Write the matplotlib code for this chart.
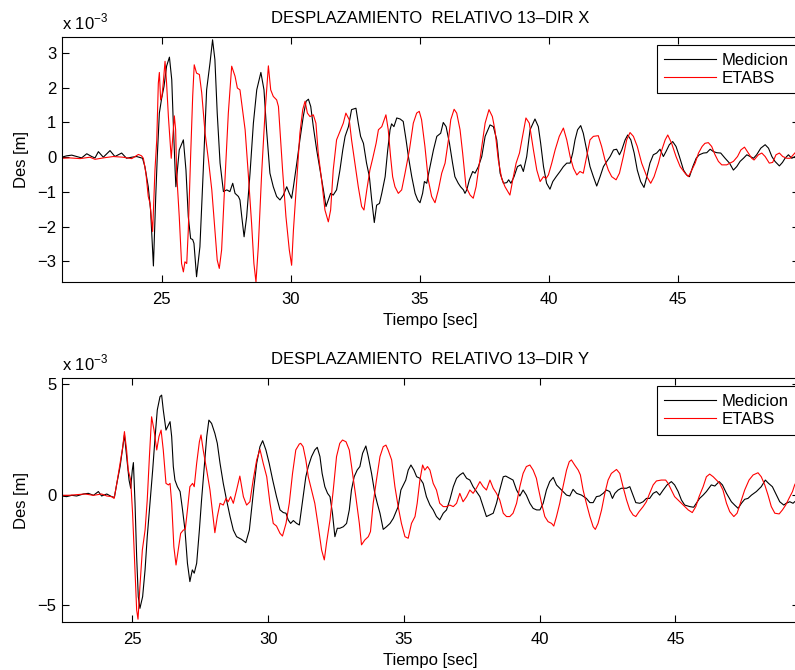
import numpy as np
import matplotlib
matplotlib.use('Agg')
import matplotlib.pyplot as plt

# (time [s], displacement [x 1e-3 m])
med_x = [(21.13,0.00),(21.32,0.04),(21.52,0.06),(21.71,0.02),(21.90,-0.02),(22.10,0.10),(22.29,0.02),(22.42,-0.02),
 (22.55,0.16),(22.74,0.00),(23.00,0.19),(23.19,0.02),(23.45,0.12),(23.64,-0.03),(23.84,0.00),(24.03,0.02),(24.26,-0.03),
 (24.35,-0.27),(24.48,-0.85),(24.57,-1.52),(24.68,-3.13),(24.77,-1.13),(24.83,0.02),(24.91,1.27),(25.00,1.70),(25.09,2.04),
 (25.19,2.62),(25.30,2.88),(25.39,2.23),(25.45,0.98),(25.52,-0.37),(25.55,-0.85),(25.68,0.21),(25.84,0.50),(25.94,-0.37),
 (26.03,-1.71),(26.12,-2.34),(26.20,-2.37),(26.25,-2.48),(26.35,-3.44),(26.48,-2.58),(26.61,-0.37),(26.74,1.94),(26.87,2.71),
 (26.97,3.38),(27.06,2.81),(27.15,1.27),(27.26,-0.17),(27.39,-0.99),(27.52,-0.94),(27.64,-0.99),(27.75,-0.75),(27.84,-1.04),
 (27.97,-1.13),(28.03,-1.23),(28.10,-1.71),(28.19,-2.29),(28.29,-1.71),(28.42,-0.46),(28.55,0.98),(28.68,1.94),(28.84,2.44),
 (28.96,1.94),(29.06,0.79),(29.19,-0.46),(29.32,-0.85),(29.45,-1.13),(29.58,-1.23),(29.71,-1.09),(29.84,-0.85),(29.94,-1.04),
 (30.03,-1.18),(30.10,-0.85),(30.23,-0.17),(30.35,0.50),(30.48,1.17),(30.59,1.61),(30.68,1.67),(30.77,1.46),(30.87,0.88),
 (31.00,0.21),(31.13,-0.37),(31.26,-0.94),(31.36,-1.42),(31.45,-1.23),(31.54,-1.04),(31.64,-1.09),(31.77,-0.94),(31.90,-0.37),
 (32.01,0.21),(32.10,0.60),(32.23,0.88),(32.35,1.37),(32.52,1.41),(32.61,0.98),(32.70,0.60),(32.81,0.40),(32.93,-0.17),
 (33.04,-0.56),(33.13,-1.23),(33.23,-1.88),(33.32,-1.38),(33.43,-1.33),(33.52,-1.04),(33.65,-0.56),(33.75,0.21),(33.84,0.79),
 (33.90,0.96),(33.99,0.88),(34.10,1.13),(34.23,1.10),(34.35,1.03),(34.46,0.50),(34.55,0.02),(34.68,-0.56),(34.81,-1.04),
 (34.91,-1.23),(35.00,-1.31),(35.10,-1.04),(35.17,-0.70),(35.26,-0.75),(35.36,-0.37),(35.52,0.21),(35.65,0.60),(35.80,0.69),
 (35.90,1.00),(36.01,0.88),(36.14,0.40),(36.26,-0.17),(36.35,-0.56),(36.48,-0.75),(36.57,-0.85),(36.68,-0.94),(36.74,-1.04),
 (36.81,-0.94),(36.91,-0.65),(37.04,-0.41),(37.13,-0.46),(37.26,-0.27),(37.39,0.02),(37.52,0.60),(37.71,0.93),(37.84,0.88),
 (37.97,0.50),(38.10,-0.46),(38.23,-0.75),(38.36,-0.73),(38.43,-0.65),(38.52,-0.75),(38.64,-0.56),(38.77,-0.27),(38.90,-0.22),
 (39.00,-0.41),(39.13,0.02),(39.26,0.79),(39.45,1.10),(39.58,0.88),(39.67,0.40),(39.78,-0.27),(39.90,-0.75),(40.03,-0.92),
 (40.14,-0.70),(40.27,-0.56),(40.42,-0.41),(40.55,-0.27),(40.68,-0.17),(40.81,-0.17),(40.91,0.12),(41.00,0.50),(41.10,0.79),
 (41.22,0.91),(41.32,0.69),(41.45,0.21),(41.58,-0.27),(41.71,-0.56),(41.84,-0.83),(41.97,-0.56),(42.10,-0.27),(42.23,-0.12),
 (42.36,0.02),(42.49,0.21),(42.61,0.23),(42.72,0.07),(42.81,0.21),(42.94,0.50),(43.04,0.64),(43.16,0.50),(43.29,0.12),
 (43.41,-0.37),(43.54,-0.70),(43.67,-0.87),(43.78,-0.56),(43.90,-0.17),(44.03,0.07),(44.16,0.12),(44.29,0.23),(44.42,0.02),
 (44.52,0.16),(44.65,0.36),(44.78,0.45),(44.91,0.31),(45.04,0.02),(45.20,-0.37),(45.32,-0.51),(45.43,-0.56),(45.56,-0.27),
 (45.69,-0.03),(45.81,0.07),(45.97,0.12),(46.10,0.13),(46.23,0.23),(46.36,0.16),(46.49,0.13),(46.64,0.12),(46.81,-0.03),
 (46.98,-0.17),(47.13,-0.37),(47.26,-0.27),(47.39,-0.12),(47.52,-0.03),(47.65,0.07),(47.78,0.02),(47.91,-0.03),(48.03,0.07),
 (48.19,0.26),(48.36,0.36),(48.49,0.26),(48.62,0.02),(48.74,-0.12),(48.91,-0.25),(49.03,-0.15),(49.13,-0.03),(49.26,0.07),
 (49.39,-0.03),(49.52,0.02),(49.67,0.05)]

etabs_x = [(21.13,-0.03),(21.45,-0.02),(21.84,-0.04),(22.22,0.00),(22.42,-0.06),(22.74,-0.02),(23.13,0.02),(23.51,0.00),
 (23.84,-0.04),(24.10,0.08),(24.22,0.04),(24.29,-0.03),(24.39,-0.46),(24.48,-1.13),(24.55,-1.33),(24.65,-2.14),(24.74,-0.37),
 (24.81,0.50),(24.87,2.13),(24.91,2.44),(24.96,1.65),(25.01,1.75),(25.06,2.13),(25.13,2.76),(25.19,2.13),(25.26,1.17),
 (25.32,0.50),(25.37,-0.03),(25.45,0.79),(25.49,1.19),(25.54,0.79),(25.58,-0.46),(25.68,-1.71),(25.77,-3.06),(25.84,-3.30),
 (25.90,-3.01),(25.97,-3.06),(26.03,-2.10),(26.12,0.02),(26.20,1.75),(26.26,2.66),(26.35,2.42),(26.46,2.38),(26.55,1.85),
 (26.68,0.69),(26.81,-0.08),(26.94,-0.94),(27.06,-2.10),(27.15,-2.96),(27.23,-3.20),(27.32,-2.67),(27.45,-0.65),(27.58,1.27),
 (27.71,2.62),(27.84,2.33),(27.93,1.99),(28.03,1.94),(28.13,1.37),(28.23,0.79),(28.35,-0.46),(28.48,-1.90),(28.57,-3.06),
 (28.65,-3.59),(28.74,-2.58),(28.87,-0.46),(29.00,1.27),(29.13,2.63),(29.22,1.94),(29.32,1.75),(29.45,1.65),(29.52,1.46),
 (29.58,0.79),(29.68,-0.37),(29.81,-1.71),(29.94,-2.67),(30.03,-3.11),(30.10,-2.10),(30.23,-0.65),(30.35,0.69),(30.46,1.37),
 (30.55,1.61),(30.64,1.27),(30.74,1.17),(30.87,1.22),(30.97,0.98),(31.06,0.12),(31.19,-0.65),(31.32,-1.52),(31.45,-1.86),
 (31.54,-1.52),(31.64,-0.37),(31.77,0.50),(31.90,0.74),(32.03,0.98),(32.13,1.27),(32.26,1.08),(32.35,0.50),(32.48,-0.17),
 (32.61,-0.85),(32.74,-1.42),(32.83,-1.52),(32.94,-0.94),(33.06,-0.37),(33.17,-0.03),(33.30,0.40),(33.39,0.79),(33.52,0.88),
 (33.68,1.22),(33.77,0.79),(33.86,0.02),(33.94,-0.56),(34.03,-0.85),(34.16,-1.04),(34.29,-0.94),(34.42,-0.46),(34.59,0.21),
 (34.74,0.98),(34.87,1.27),(34.97,1.32),(35.06,1.08),(35.19,0.31),(35.32,-0.65),(35.45,-1.13),(35.58,-1.31),(35.71,-0.94),
 (35.84,-0.46),(35.97,-0.17),(36.10,0.50),(36.19,1.08),(36.32,1.38),(36.42,1.27),(36.55,0.79),(36.65,0.12),(36.78,-0.85),
 (36.94,-1.09),(37.06,-1.18),(37.17,-0.85),(37.30,-0.17),(37.43,0.50),(37.52,0.98),(37.67,1.37),(37.80,1.17),(37.90,0.79),
 (38.03,-0.08),(38.16,-0.61),(38.29,-0.85),(38.48,-1.09),(38.59,-0.65),(38.72,-0.17),(38.85,0.12),(38.97,0.60),(39.10,1.13),
 (39.23,0.98),(39.39,0.21),(39.52,-0.37),(39.65,-0.70),(39.78,-0.56),(39.88,-0.61),(39.97,-0.51),(40.10,-0.17),(40.23,0.21),
 (40.39,0.60),(40.55,0.84),(40.68,0.50),(40.81,0.02),(40.94,-0.32),(41.07,-0.51),(41.19,-0.41),(41.32,-0.46),(41.45,0.02),
 (41.58,0.50),(41.71,0.60),(41.90,0.62),(42.03,0.31),(42.16,-0.08),(42.29,-0.37),(42.42,-0.56),(42.59,-0.65),(42.72,-0.46),
 (42.87,0.02),(43.00,0.50),(43.13,0.71),(43.26,0.60),(43.41,0.31),(43.58,-0.17),(43.78,-0.56),(43.93,-0.75),(44.06,-0.56),
 (44.23,-0.17),(44.36,0.21),(44.49,0.50),(44.59,0.64),(44.74,0.40),(44.91,0.02),(45.07,-0.27),(45.26,-0.46),(45.39,-0.56),
 (45.52,-0.37),(45.65,-0.17),(45.78,0.12),(45.92,0.31),(46.03,0.40),(46.16,0.42),(46.29,0.31),(46.42,0.07),(46.55,-0.12),
 (46.68,-0.22),(46.87,-0.22),(47.00,-0.17),(47.13,-0.12),(47.29,0.02),(47.42,0.21),(47.56,0.29),(47.71,0.12),(47.84,-0.03),
 (47.93,-0.08),(48.10,0.07),(48.23,0.12),(48.36,0.02),(48.52,-0.17),(48.65,-0.15),(48.78,0.07),(48.91,0.12),(49.04,0.02),
 (49.20,-0.03),(49.33,-0.03),(49.45,0.07),(49.52,0.13),(49.67,0.18)]

med_y = [(22.40,-0.06),(22.58,-0.09),(22.77,-0.03),(22.95,-0.06),(23.20,0.03),(23.38,0.06),(23.57,-0.03),(23.75,0.14),
 (23.87,-0.06),(24.06,0.03),(24.24,-0.09),(24.34,-0.12),(24.43,0.51),(24.55,1.27),(24.65,2.17),(24.71,2.70),(24.79,1.72),
 (24.88,0.66),(24.94,0.29),(25.00,1.11),(25.04,1.45),(25.10,-0.39),(25.16,-2.80),(25.22,-4.61),(25.28,-5.14),(25.38,-4.61),
 (25.47,-3.40),(25.55,-1.90),(25.65,-0.39),(25.75,1.11),(25.84,2.62),(25.92,3.83),(26.02,4.43),(26.08,4.50),(26.14,3.83),
 (26.24,2.92),(26.30,3.07),(26.39,3.30),(26.45,2.62),(26.51,1.27),(26.57,0.66),(26.66,0.36),(26.76,0.14),(26.85,-0.69),
 (26.94,-1.60),(27.03,-3.10),(27.12,-3.93),(27.21,-3.40),(27.28,-3.55),(27.37,-3.10),(27.47,-1.60),(27.55,-0.24),(27.64,1.11),
 (27.74,2.62),(27.82,3.37),(27.92,3.22),(28.04,2.77),(28.13,2.32),(28.23,1.42),(28.35,0.51),(28.47,-0.24),(28.60,-0.99),
 (28.72,-1.60),(28.84,-1.90),(29.02,-2.02),(29.18,-2.17),(29.31,-1.60),(29.39,-0.69),(29.48,0.36),(29.58,1.42),(29.70,2.17),
 (29.80,2.44),(29.92,2.02),(30.04,1.42),(30.17,0.66),(30.31,-0.09),(30.44,-0.69),(30.56,-0.81),(30.66,-0.84),(30.74,-1.14),
 (30.83,-1.30),(30.93,-1.17),(31.05,-1.30),(31.15,-1.37),(31.29,-0.09),(31.39,0.81),(31.48,1.27),(31.60,1.72),(31.72,2.02),
 (31.81,2.14),(31.91,1.72),(31.99,0.96),(32.09,0.36),(32.19,0.06),(32.28,-0.09),(32.37,-0.84),(32.46,-1.90),(32.55,-1.52),
 (32.64,-1.52),(32.77,-1.45),(32.89,-1.30),(32.99,-0.69),(33.07,0.21),(33.17,0.81),(33.28,1.11),(33.38,1.27),(33.48,1.87),
 (33.60,2.20),(33.69,1.72),(33.81,0.96),(33.93,0.06),(34.02,-0.39),(34.12,-0.84),(34.24,-1.57),(34.36,-1.45),(34.49,-1.30),
 (34.61,-1.07),(34.71,-0.77),(34.79,-0.54),(34.89,0.21),(34.98,0.44),(35.07,0.66),(35.16,1.11),(35.26,1.34),(35.37,1.11),
 (35.47,0.81),(35.59,0.74),(35.71,0.51),(35.83,-0.09),(35.96,-0.47),(36.08,-0.69),(36.20,-0.99),(36.32,-1.14),(36.45,-0.84),
 (36.57,-0.69),(36.69,-0.24),(36.82,0.36),(36.94,0.74),(37.06,0.89),(37.18,0.99),(37.31,0.74),(37.43,0.66),(37.55,0.36),
 (37.67,0.14),(37.80,-0.09),(37.92,-0.54),(38.04,-0.99),(38.16,-0.92),(38.29,-0.84),(38.41,-0.39),(38.53,0.21),(38.66,0.81),
 (38.75,0.84),(38.90,0.74),(39.02,0.66),(39.15,0.21),(39.27,-0.06),(39.39,0.21),(39.51,-0.02),(39.64,-0.39),(39.76,-0.62),
 (39.89,-0.69),(40.01,-0.69),(40.13,-0.39),(40.25,0.21),(40.37,0.59),(40.50,0.78),(40.62,0.44),(40.74,0.29),(40.86,0.14),
 (40.99,-0.02),(41.11,-0.06),(41.23,0.24),(41.36,0.06),(41.54,-0.02),(41.72,-0.17),(41.85,-0.36),(41.97,-0.36),(42.09,-0.09),
 (42.21,-0.06),(42.34,0.06),(42.46,0.21),(42.58,0.14),(42.68,-0.17),(42.77,0.06),(42.89,0.21),(43.01,0.29),(43.20,0.29),
 (43.32,0.36),(43.42,0.03),(43.54,-0.36),(43.69,-0.39),(43.81,-0.32),(43.93,-0.17),(44.05,-0.17),(44.18,0.06),(44.30,0.14),
 (44.42,-0.02),(44.55,0.21),(44.69,0.44),(44.85,0.59),(44.97,0.44),(45.10,0.14),(45.22,-0.24),(45.34,-0.47),(45.53,-0.54),
 (45.67,-0.57),(45.77,-0.39),(45.89,-0.17),(46.02,-0.02),(46.14,0.14),(46.32,0.44),(46.45,0.39),(46.61,0.59),(46.73,0.44),
 (46.88,0.06),(47.06,-0.32),(47.18,-0.47),(47.31,-0.62),(47.43,-0.39),(47.55,-0.21),(47.67,-0.17),(47.80,-0.02),(47.98,0.14),
 (48.16,0.36),(48.31,0.66),(48.43,0.51),(48.57,0.36),(48.72,-0.02),(48.84,-0.32),(48.99,-0.47),(49.08,-0.39),(49.21,-0.32),
 (49.33,-0.39),(49.39,-0.32),(49.55,-0.20)]

etabs_y = [(22.40,-0.03),(22.65,-0.03),(22.95,0.00),(23.26,0.03),(23.57,-0.03),(23.87,0.03),(24.06,-0.06),(24.24,-0.09),
 (24.33,-0.17),(24.43,0.51),(24.55,1.42),(24.65,2.17),(24.71,2.85),(24.79,2.02),(24.85,1.11),(24.94,0.66),(25.01,-0.84),
 (25.10,-3.40),(25.16,-5.21),(25.21,-5.63),(25.28,-4.16),(25.37,-2.50),(25.47,-1.60),(25.55,-0.24),(25.63,1.72),(25.71,3.52),
 (25.80,2.92),(25.90,2.02),(25.98,2.62),(26.06,2.92),(26.14,2.02),(26.24,0.51),(26.33,0.44),(26.39,0.51),(26.45,-0.39),
 (26.53,-2.35),(26.61,-3.18),(26.69,-2.50),(26.78,-1.75),(26.88,-1.60),(26.95,-1.57),(27.03,-0.69),(27.12,0.36),(27.22,0.51),
 (27.28,0.36),(27.37,1.42),(27.47,2.39),(27.53,2.70),(27.61,2.02),(27.74,1.11),(27.86,0.21),(27.96,-0.84),(28.04,-1.72),
 (28.13,-0.99),(28.23,-0.39),(28.35,-0.47),(28.45,-0.17),(28.53,-0.32),(28.62,-0.09),(28.72,-0.39),(28.84,0.21),(28.96,0.84),
 (29.09,-0.09),(29.21,-0.47),(29.33,-0.32),(29.45,0.66),(29.58,1.57),(29.70,2.05),(29.82,1.42),(29.95,0.81),(30.07,-0.39),
 (30.19,-1.30),(30.31,-1.42),(30.44,-1.75),(30.53,-1.87),(30.66,-1.30),(30.78,-0.39),(30.90,0.96),(31.02,2.02),(31.15,2.29),
 (31.20,2.32),(31.29,2.17),(31.39,1.57),(31.48,0.81),(31.60,0.21),(31.72,-0.39),(31.85,-1.45),(31.97,-2.50),(32.07,-2.95),
 (32.15,-2.20),(32.28,-1.14),(32.40,0.21),(32.52,1.72),(32.64,2.32),(32.74,2.47),(32.87,2.39),(32.99,2.02),(33.11,0.96),
 (33.23,-0.09),(33.36,-1.30),(33.44,-2.27),(33.56,-2.05),(33.69,-1.90),(33.77,-1.67),(33.87,-0.39),(33.99,0.66),(34.12,1.72),
 (34.24,2.17),(34.34,2.24),(34.42,2.02),(34.55,1.57),(34.67,0.36),(34.79,-0.54),(34.91,-1.30),(35.04,-1.90),(35.16,-1.97),
 (35.28,-1.30),(35.41,-0.99),(35.49,-0.39),(35.59,0.66),(35.69,1.34),(35.77,1.11),(35.87,1.27),(35.96,1.11),(36.08,0.51),
 (36.20,0.21),(36.32,-0.39),(36.45,-0.54),(36.57,-0.54),(36.69,-0.47),(36.82,-0.54),(36.94,-0.39),(37.06,0.06),(37.18,-0.32),
 (37.31,-0.09),(37.43,0.21),(37.55,0.06),(37.67,0.29),(37.80,0.59),(37.92,0.36),(38.04,0.21),(38.17,0.66),(38.29,0.29),
 (38.41,0.06),(38.53,-0.24),(38.66,-0.84),(38.78,-0.99),(38.90,-0.99),(39.02,-0.84),(39.15,-0.39),(39.27,0.36),(39.39,0.96),
 (39.51,1.27),(39.64,1.34),(39.76,1.11),(39.88,0.74),(39.94,0.36),(40.07,-0.39),(40.19,-0.99),(40.31,-1.22),(40.44,-1.30),
 (40.52,-1.42),(40.62,-0.99),(40.74,-0.39),(40.86,0.36),(40.99,1.11),(41.09,1.49),(41.17,1.57),(41.29,1.34),(41.42,1.11),
 (41.50,0.89),(41.60,0.21),(41.72,-0.39),(41.85,-0.99),(41.97,-1.45),(42.05,-1.57),(42.15,-1.30),(42.28,-0.69),(42.40,0.06),
 (42.52,0.66),(42.64,0.96),(42.83,1.14),(42.95,0.96),(43.07,0.36),(43.20,-0.24),(43.32,-0.69),(43.44,-0.92),(43.54,-0.99),
 (43.66,-0.77),(43.81,-0.54),(43.93,-0.32),(44.05,0.06),(44.18,0.44),(44.30,0.62),(44.48,0.66),(44.64,0.66),(44.73,0.51),
 (44.85,0.21),(44.97,-0.09),(45.16,-0.32),(45.34,-0.54),(45.47,-0.69),(45.62,-0.81),(45.75,-0.54),(45.87,-0.09),(46.02,0.36),
 (46.14,0.81),(46.26,0.93),(46.39,0.81),(46.51,0.66),(46.63,0.51),(46.75,0.21),(46.88,-0.39),(47.00,-0.77),(47.15,-0.99),
 (47.27,-0.84),(47.39,-0.39),(47.55,0.21),(47.71,0.66),(47.86,0.89),(48.04,0.99),(48.16,0.81),(48.29,0.44),(48.41,-0.02),
 (48.53,-0.54),(48.66,-0.84),(48.82,-0.87),(48.94,-0.69),(49.06,-0.47),(49.18,-0.17),(49.31,0.14),(49.39,0.44),(49.55,0.80)]

labels = ['Medicion', 'ETABS']
titles = ['DESPLAZAMIENTO  RELATIVO 13\u2013DIR X', 'DESPLAZAMIENTO  RELATIVO 13\u2013DIR Y']

plt.rcParams['font.family'] = ['Liberation Sans', 'DejaVu Sans']
plt.rcParams['font.size'] = 12
plt.rcParams['axes.linewidth'] = 0.8
plt.rcParams['mathtext.fontset'] = 'custom'
plt.rcParams['mathtext.rm'] = 'Liberation Sans'

fig = plt.figure(figsize=(7.95, 6.7), dpi=100)
ax1 = fig.add_axes([61.7/795, 1-282.3/670, (799-61.7)/795, 245.3/670])
ax2 = fig.add_axes([61.7/795, 1-622.3/670, (799-61.7)/795, 244/670])

panels = [(ax1, med_x, etabs_x, (21.13, 49.67), (-3.6, 3.46), [-3, -2, -1, 0, 1, 2, 3], titles[0]),
          (ax2, med_y, etabs_y, (22.40, 49.55), (-5.77, 5.26), [-5, 0, 5], titles[1])]

for ax, med, eta, xl, yl, yt, ttl in panels:
    tm, dm = np.array(med).T
    te, de = np.array(eta).T
    ax.plot(tm, dm, color='black', lw=0.8, label=labels[0])
    ax.plot(te, de, color='red', lw=0.8, label=labels[1])
    ax.set_xlim(*xl)
    ax.set_ylim(*yl)
    ax.set_xticks([25, 30, 35, 40, 45])
    ax.set_yticks(yt)
    ax.tick_params(direction='in', top=True, right=True, length=5, width=0.8, labelsize=12)
    ax.tick_params(axis='x', pad=7)
    ax.tick_params(axis='y', pad=4)
    ax.set_xlabel('Tiempo [sec]', fontsize=12, labelpad=4)
    ax.set_ylabel('Des [m]', fontsize=12, labelpad=6)
    ax.set_title(ttl, fontsize=12, pad=10)
    leg = ax.legend(loc='upper right', bbox_to_anchor=(1 - 3/737.3, 1 - 8/245), borderaxespad=0,
                    prop={'size': 12}, fancybox=False, framealpha=1,
                    edgecolor='black', handlelength=3.1, handletextpad=0.35, labelspacing=0.2,
                    borderpad=0.45)
    leg.get_frame().set_linewidth(0.8)
    # MATLAB style exponent label
    ax.text(0, 1.02, r'x 10$^{-3}$', transform=ax.transAxes, fontsize=12,
            va='bottom', ha='left')

plt.savefig('out.png', dpi=100)
